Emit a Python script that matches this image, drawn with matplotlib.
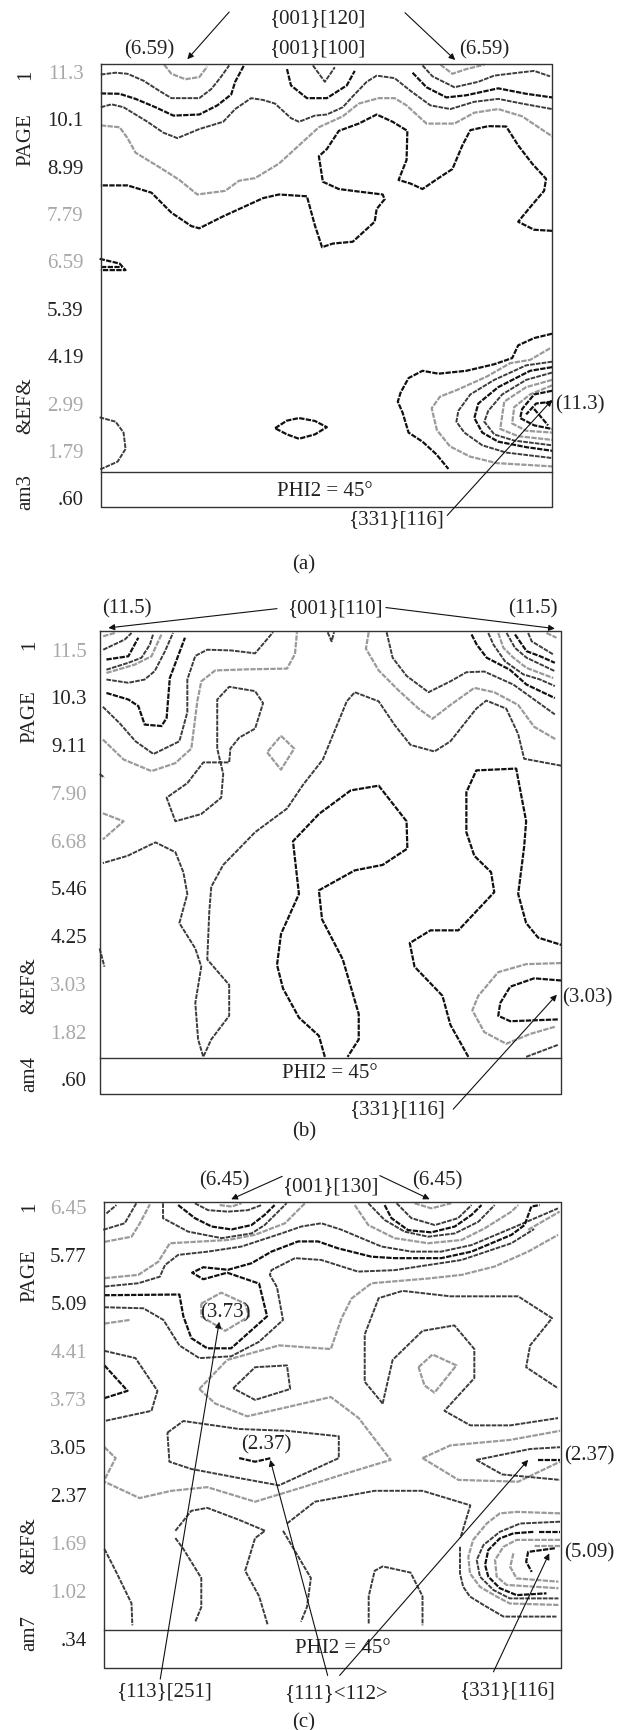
import matplotlib
matplotlib.use("Agg")
import matplotlib.pyplot as plt

plt.rcParams['font.family'] = ['Liberation Serif', 'DejaVu Serif']

BLACK = '#111111'
DARK = '#3c3c3c'
GRAY = '#9a9a9a'
TEXT = '#222222'
TICK_GRAY = '#a8a8a8'

# tick labels, top to bottom
ticks_a = ['11.3', '10.1', '8.99', '7.79', '6.59', '5.39', '4.19', '2.99', '1.79', '.60']
ticks_b = ['11.5', '10.3', '9.11', '7.90', '6.68', '5.46', '4.25', '3.03', '1.82', '.60']
ticks_c = ['6.45', '5.77', '5.09', '4.41', '3.73', '3.05', '2.37', '1.69', '1.02', '.34']
tick_is_gray = [True, False, False, True, True, False, False, True, True, False]

# contours, panel (a)
a_black = [
    [(253,257),(300,258),(340,272),(390,295),(435,318),(500,315),(545,290),(580,260),(590,225),(612,180)],
    [(720,190),(730,235),(770,270),(820,270),(870,235),(890,195)],
    [(1035,200),(1070,240),(1120,268),(1170,262),(1250,243),(1320,258),(1385,268)],
    [(1385,635),(1340,632),(1300,610),(1330,570),(1365,525),(1370,492),(1335,450),(1300,400),(1270,348),(1225,347),
     (1180,358),(1160,400),(1135,465),(1100,490),(1060,520),(1030,505),(1000,495),(1020,440),(1022,360),(985,335),
     (945,315),(900,340),(850,360),(820,410),(800,430),(810,500),(850,520),(900,527),(960,535),(965,548),(945,575),
     (940,610),(885,665),(835,670),(808,680),(790,620),(770,540),(700,535),(660,545),(610,570),(560,595),(500,628),
     (480,622),(430,585),(380,530),(320,510),(253,510)],
    [(250,712),(300,725),(315,743),(253,743)],
    [(253,735),(305,735)],
    [(690,1178),(720,1157),(750,1150),(790,1158),(820,1175),(790,1195),(750,1207),(720,1195),(690,1178)],
    [(1385,918),(1340,930),(1300,950),(1285,985),(1240,1002),(1170,1020),(1100,1028),(1060,1020),(1025,1040),
     (1005,1080),(998,1105),(1010,1135),(1025,1190),(1060,1215),(1095,1250),(1125,1290)],
    [(1385,1010),(1330,1020),(1250,1065),(1200,1110),(1190,1150),(1210,1190),(1250,1215),(1320,1230),(1385,1240)],
    [(1385,1075),(1340,1085),(1310,1125),(1305,1150),(1340,1170),(1385,1180)],
    [(1385,1105),(1345,1110),(1320,1140)],
    [(1340,1125),(1375,1170)],
]
a_dark = [
    [(253,205),(290,200),(320,203),(360,222),(400,250),(430,270),(500,270),(530,245),(552,215),(575,180)],
    [(253,295),(280,287),(310,295),(370,335),(410,365),(445,380),(500,355),(560,335),(590,300),(630,270),(660,275),
     (690,285),(730,325),(750,335),(790,318),(820,315),(860,295),(885,265),(920,225),(945,208),(990,215),(1030,250),
     (1080,290),(1130,300),(1190,280),(1250,272),(1310,285),(1385,300)],
    [(785,180),(815,225),(840,185)],
    [(1060,180),(1085,210),(1140,240),(1200,225),(1240,208),(1300,200),(1340,195),(1380,210)],
    [(250,1148),(290,1160),(310,1190),(315,1235),(295,1270),(250,1292)],
    [(1385,995),(1320,1005),(1240,1045),(1180,1085),(1150,1130),(1145,1160),(1165,1190),(1210,1225),(1270,1245),(1385,1260)],
    [(1385,1025),(1320,1045),(1260,1085),(1225,1130),(1215,1160),(1240,1195),(1290,1212),(1385,1225)],
]
a_gray = [
    [(412,178),(430,203),(465,218),(500,212),(520,183)],
    [(1105,178),(1135,203),(1170,190),(1215,178)],
    [(253,345),(300,350),(320,380),(340,420),(400,460),(450,495),(495,535),(565,525),(600,497),(640,490),(700,450),
     (750,400),(800,350),(860,320),(900,285),(950,270),(990,270),(1020,290),(1070,340),(1140,340),(1190,310),(1250,300),
     (1310,320),(1385,375)],
    [(1380,958),(1330,990),(1280,999),(1221,1036),(1146,1073),(1104,1091),(1083,1123),(1096,1183),(1129,1228),
     (1179,1256),(1246,1274),(1385,1283)],
    [(1385,1045),(1320,1065),(1265,1105),(1255,1180),(1300,1200),(1385,1210)],
    [(1385,1060),(1330,1085),(1290,1120),(1285,1165),(1320,1185),(1385,1190)],
]

# panel (b)
b_black = [
    [(267,205),(322,196),(347,145)],
    [(267,297),(322,315),(347,333),(363,384),(405,388),(418,366),(426,256),(464,145)],
    [(1183,136),(1196,164),(1221,200),(1279,233),(1321,274),(1392,311)],
    [(1292,136),(1321,182),(1355,196),(1392,214)],
    [(815,1298),(800,1240),(750,1190),(710,1110),(695,1045),(705,960),(750,850),(735,705),(800,630),(880,565),(950,552),
     (1020,650),(1022,725),(960,770),(890,785),(800,840),(808,920),(860,1030),(900,1180),(900,1250),(872,1298)],
    [(1175,1298),(1130,1210),(1110,1130),(1040,1050),(1028,985),(1080,950),(1150,950),(1240,845),(1232,790),(1190,745),
     (1170,680),(1170,570),(1195,510),(1295,505),(1320,650),(1315,720),(1300,850),(1320,930),(1350,970),(1408,990)],
    [(1408,1088),(1340,1082),(1280,1105),(1255,1150),(1250,1185),(1280,1200),(1400,1195)],
]
b_dark = [
    [(259,178),(313,150),(330,132)],
    [(267,233),(322,214),(355,200),(376,164),(384,136)],
    [(267,260),(322,269),(363,260),(388,237),(414,182),(434,132)],
    [(258,335),(300,380),(340,430),(385,465),(450,430),(470,350),(470,260),(490,195),(520,178),(580,180),(640,188),(685,130)],
    [(545,450),(545,315),(575,280),(640,292),(660,325),(640,395),(600,420),(578,450),(575,488),(510,488),(470,545),
     (418,585),(440,650),(505,630),(555,585),(560,520),(545,450)],
    [(822,130),(832,155),(838,130)],
    [(970,130),(985,200),(1020,250),(1075,295),(1130,265),(1170,240),(1215,238),(1288,274),(1392,356)],
    [(1225,132),(1238,164),(1267,210),(1313,246),(1355,260),(1392,278)],
    [(1271,132),(1292,173),(1321,200),(1392,237)],
    [(1325,132),(1334,155),(1388,191)],
    [(1408,497),(1315,478),(1300,410),(1270,340),(1220,318),(1195,340),(1130,430),(1090,458),(1030,440),(990,385),
     (950,320),(890,295),(870,320),(840,400),(810,480),(760,550),(720,615),(640,680),(560,770),(530,830),(525,900),
     (520,1030),(575,1100),(575,1185),(530,1250),(510,1298),(497,1250),(490,1150),(505,1050),(490,1000),(450,930),
     (470,850),(460,790),(440,735),(390,708),(320,745),(258,765)],
    [(250,520),(262,530)],
    [(250,1000),(262,1050)],
    [(1320,1298),(1400,1265)],
]
b_gray = [
    [(259,141),(288,132)],
    [(267,242),(338,219),(380,196),(405,136)],
    [(258,425),(310,480),(380,512),(440,490),(480,450),(495,320),(505,265),(540,235),(620,232),(720,230),(740,190),(745,130)],
    [(705,415),(738,450),(705,508),(670,460),(705,415)],
    [(925,130),(918,175),(950,235),(1000,290),(1050,340),(1085,368),(1130,330),(1190,283),(1240,295),(1300,330),(1340,390),(1395,425)],
    [(1250,132),(1263,173),(1288,200),(1321,228),(1388,256)],
    [(1371,132),(1396,145)],
    [(258,628),(310,650),(258,700)],
    [(1408,1040),(1320,1043),(1250,1065),(1200,1130),(1185,1170),(1215,1230),(1270,1262),(1330,1235),(1393,1215)],
]

# panel (c)
c_black = [
    [(447,124),(489,160),(531,183),(581,191),(631,179),(664,151),(689,124)],
    [(965,124),(982,160),(1024,193),(1082,199),(1141,183),(1183,151),(1208,124)],
    [(262,372),(450,370),(460,430),(480,490),(520,518),(580,518),(670,430),(650,340),(570,310),(510,328),(482,310),
     (510,295),(572,302),(631,284),(681,252),(748,224),(798,224),(848,243),(932,266),(990,270),(1107,270),(1183,252),
     (1283,206),(1316,179),(1333,128),(1354,124)],
    [(262,565),(320,635),(262,655)],
    [(600,820),(640,830),(680,820)],
    [(1350,825),(1405,825)],
    [(1338,1023),(1288,1027),(1254,1041),(1225,1073),(1217,1114),(1225,1146),(1254,1178),(1296,1197),(1371,1192)],
    [(1351,1023),(1405,1023)],
    [(1392,1068),(1325,1078),(1320,1105),(1334,1133)],
]
c_dark = [
    [(267,147),(292,124)],
    [(259,192),(313,174),(342,119)],
    [(409,119),(409,160),(472,197),(556,215),(631,202),(664,179),(719,119)],
    [(489,119),(522,138),(572,142),(622,138),(656,124)],
    [(924,119),(965,165),(1015,197),(1074,211),(1141,202),(1200,170),(1241,124)],
    [(995,119),(1032,160),(1091,179),(1149,160),(1183,124)],
    [(263,348),(347,339),(401,321),(414,289),(447,261),(522,252),(606,238),(706,202),(756,183),(806,174),(857,192),
     (957,238),(1032,252),(1107,252),(1183,234),(1283,188),(1400,133)],
    [(262,405),(360,408),(410,440),(450,510),(500,545),(580,540),(650,500),(710,440),(695,350),(677,316),(681,303),
     (740,270),(806,275),(898,307),(990,303),(1074,289),(1158,275),(1283,229),(1340,190)],
    [(262,525),(340,545),(395,635),(380,690),(262,718)],
    [(585,628),(640,570),(720,565),(728,630),(640,660),(585,628)],
    [(960,670),(915,610),(915,480),(950,380),(1010,360),(1130,375),(1300,375),(1385,435),(1330,510),(1320,570),(1400,628)],
    [(960,670),(985,550),(1060,470),(1140,455),(1190,520),(1190,600),(1115,690),(1180,730),(1280,730),(1400,710)],
    [(420,750),(460,718),(600,740),(720,745),(850,760),(850,820),(700,895),(600,875),(480,850),(425,830),(420,750)],
    [(1195,825),(1330,795),(1405,790)],
    [(1195,825),(1260,865),(1405,880)],
    [(720,1000),(790,940),(940,910),(1060,910),(1180,950),(1155,1040)],
    [(1154,1064),(1154,1137),(1162,1174),(1179,1201),(1213,1224),(1263,1256),(1396,1256)],
    [(440,1020),(480,965),(520,957),(600,990),(665,1020),(640,1040),(615,1130),(650,1200),(672,1280)],
    [(440,1040),(460,1070),(505,1150),(505,1230),(490,1270)],
    [(262,1070),(290,1130),(330,1220),(332,1280)],
    [(710,1020),(780,1150),(770,1230),(755,1270)],
    [(925,1275),(925,1200),(940,1130),(960,1118),(1030,1135),(1060,1200),(1060,1280)],
    [(1405,995),(1305,1000),(1254,1023),(1213,1059),(1196,1100),(1204,1146),(1238,1183),(1279,1206),(1401,1206)],
]
c_gray = [
    [(263,225),(330,211),(351,174),(376,122)],
    [(551,124),(581,128),(606,119)],
    [(263,325),(347,316),(397,280),(426,229),(572,220),(639,206),(715,174),(765,119)],
    [(890,124),(924,179),(990,215),(1074,229),(1158,220),(1216,188),(1283,142),(1300,124)],
    [(1040,119),(1082,133),(1132,119)],
    [(1325,192),(1404,142)],
    [(262,450),(325,440)],
    [(505,395),(555,365),(615,395),(625,430),(565,470),(505,430),(505,395)],
    [(500,630),(570,550),(700,510),(830,520),(857,435),(882,381),(932,339),(1074,326),(1158,316),(1241,293),(1325,252),(1400,206)],
    [(500,630),(540,670),(620,705),(720,680),(830,652),(900,710),(980,825),(860,865),(760,900),(640,940),(520,900),(430,910),(350,930),(262,885)],
    [(262,790),(290,820),(262,880)],
    [(1050,570),(1085,535),(1145,565),(1090,640),(1065,620),(1050,570)],
    [(1060,820),(1130,785),(1280,770),(1405,745)],
    [(1060,820),(1150,880),(1300,885),(1405,830)],
    [(1405,972),(1296,968),(1254,972),(1221,1000),(1187,1045),(1175,1091),(1179,1137),(1204,1174),(1246,1201),(1279,1220),(1401,1224)],
    [(1405,1045),(1296,1045),(1263,1064),(1242,1100),(1246,1146),(1271,1169),(1401,1178)],
    [(1288,1082),(1280,1119),(1296,1151),(1401,1160)],
    [(1405,1062),(1340,1062)],
]

# text labels: string, x, y
labels_a = [('{001}[120]',797,52), ('{001}[100]',797,134), ('(6.59)',375,137), ('(6.59)',1216,137),
            ('(11.3)',1455,1113), ('{331}[116]',993,1430), ('PHI2 = 45°',815,1352), ('(a)',762,1553)]
labels_b = [('(11.5)',318,67), ('{001}[110]',840,65), ('(11.5)',1337,67), ('(3.03)',1474,1135),
            ('PHI2 = 45°',828,1345), ('{331}[116]',995,1442), ('(b)',762,1505)]
labels_c = [('(6.45)',562,57), ('{001}[130]',828,73), ('(6.45)',1096,57), ('(3.73)',565,420), ('(2.37)',668,783),
            ('(2.37)',1478,815), ('(5.09)',1478,1082), ('PHI2 = 45°',860,1345), ('{113}[251]',412,1462),
            ('{111}<112>',843,1468), ('{331}[116]',1272,1460), ('(c)',762,1548)]

# arrows: tail then head
arrows_a = [((575,33),(470,163)), ((1016,35),(1142,165)), ((1122,1418),(1385,1100))]
arrows_b = [((695,65),(272,118)), ((968,62),(1392,120)), ((1137,1442),(1397,1127))]
arrows_c = [((708,45),(580,108)), ((953,43),(1078,108)), ((402,1428),(550,445)), ((822,1418),(678,825)),
            ((852,1418),(1325,825)), ((1238,1408),(1378,1082))]


def draw_panel(y_off, box, y_line, ticks, side, side_x, tick_right, tick_top, tick_step,
               black, dark, gray, labels, arrows):
    ax = fig.add_axes([0, 1 - (y_off + 570) / H, 1, 570 / H])
    ax.set_xlim(0, 1568)
    ax.set_ylim(1568, 0)
    ax.axis('off')

    for lines, col, lw in [(gray, GRAY, 1.6), (dark, DARK, 1.4), (black, BLACK, 1.6)]:
        for pts in lines:
            ax.plot([p[0] for p in pts], [p[1] for p in pts], color=col, lw=lw,
                    ls=(0, (2.4, 0.6)), solid_capstyle='butt')

    x0, x1, y0, y1 = box
    ax.plot([x0, x1, x1, x0, x0], [y0, y0, y1, y1, y0], color='#333333', lw=1.0)
    ax.plot([x0, x1], [y_line, y_line], color='#333333', lw=1.0)

    for i, t in enumerate(ticks):
        ax.text(tick_right, tick_top + i * tick_step, t, ha='right', va='center', fontsize=15,
                color=TICK_GRAY if tick_is_gray[i] else TEXT)

    for s, y in side:
        ax.text(side_x, y, s, rotation=90, ha='center', va='center', fontsize=15,
                color=TEXT)

    for s, x, y in labels:
        ax.text(x, y, s, ha='center', va='center', fontsize=15, color=TEXT)

    for tail, head in arrows:
        ax.annotate('', xy=head, xytext=tail,
                    arrowprops=dict(arrowstyle='-|>', color='#111111', lw=0.8,
                                    mutation_scale=9, shrinkA=0, shrinkB=0))


H = 1730
fig = plt.figure(figsize=(6.25, 17.30), dpi=100)

draw_panel(0, (253, 1385, 177, 1395), 1298, ticks_a,
           [('1', 205), ('PAGE', 383), ('&EF&', 1115), ('am3', 1353)], 65, 210, 205, 130.3,
           a_black, a_dark, a_gray, labels_a, arrows_a)
draw_panel(585, (250, 1408, 127, 1400), 1300, ticks_b,
           [('1', 165), ('PAGE', 363), ('&EF&', 1103), ('am4', 1345)], 75, 218, 185, 131.3,
           b_black, b_dark, b_gray, labels_b, arrows_b)
draw_panel(1160, (261, 1408, 115, 1398), 1292, ticks_c,
           [('1', 130), ('PAGE', 317), ('&EF&', 1060), ('am7', 1302)], 75, 218, 137, 132,
           c_black, c_dark, c_gray, labels_c, arrows_c)

fig.savefig('out.png', dpi=100)
